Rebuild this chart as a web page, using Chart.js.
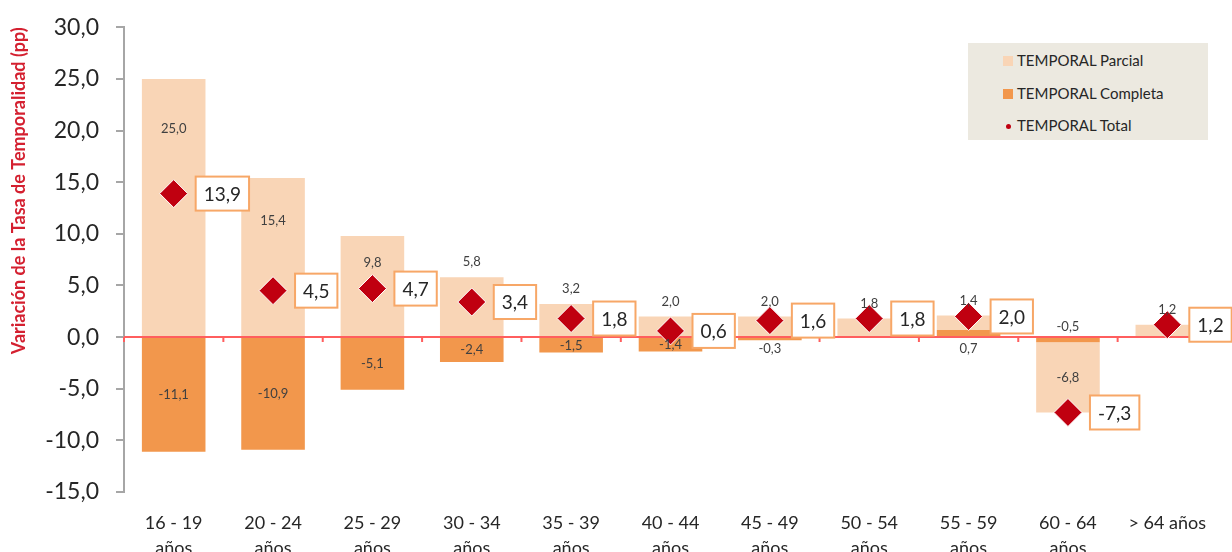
<!DOCTYPE html>
<html>
<head>
<meta charset="utf-8">
<script src="https://cdn.jsdelivr.net/npm/chart.js@4/dist/chart.umd.min.js"></script>
<style>
  html, body { margin: 0; padding: 0; background: #fff; }
  #marco { position: relative; width: 1232px; height: 552px; }
  #leyenda { position: absolute; left: 968px; top: 43px; width: 240px; height: 97px;
             background: #ECE9E0; font: 15px Lato, sans-serif; color: #262626; }
  #leyenda .item { position: absolute; left: 35px; height: 18px; line-height: 18px; white-space: nowrap; }
  #leyenda .marca { display: inline-block; width: 10px; height: 10px; margin-right: 4px; vertical-align: 0px; }
  #leyenda .punto { border-radius: 50%; width: 5px; height: 5px; margin: 0 6px 2px 3px; }
</style>
</head>
<body>
<div id="marco">
  <canvas id="grafico" width="1232" height="552"></canvas>
  <div id="leyenda"></div>
</div>
<script>
// categorías (grupos de edad)
var edades = [
  ['16 - 19', 'años'], ['20 - 24', 'años'], ['25 - 29', 'años'], ['30 - 34', 'años'],
  ['35 - 39', 'años'], ['40 - 44', 'años'], ['45 - 49', 'años'], ['50 - 54', 'años'],
  ['55 - 59', 'años'], ['60 - 64', 'años'], ['> 64 años']
];
// variación en puntos porcentuales
var parcial  = [25.0, 15.4, 9.8, 5.8, 3.2, 2.0, 2.0, 1.8, 1.4, -6.8, 1.2];
var completa = [-11.1, -10.9, -5.1, -2.4, -1.5, -1.4, -0.3, null, 0.7, -0.5, null];
var total    = [13.9, 4.5, 4.7, 3.4, 1.8, 0.6, 1.6, 1.8, 2.0, -7.3, 1.2];
// marcas del eje vertical
var marcasY = [-15, -10, -5, 0, 5, 10, 15, 20, 25, 30];

var colParcial = '#F9D5B6';
var colCompleta = '#F2974C';
var colTotal = '#C00010';
var fuente = 'Lato, sans-serif';
var colTexto = '#262626';

function coma(v) {
  return v.toFixed(1).replace('.', ',');
}

// línea del cero, etiquetas de las barras y recuadros del total
var etiquetas = {
  id: 'etiquetas',
  beforeDatasetDraw: function(chart, args) {
    if (args.meta.type !== 'line') return;
    var ctx = chart.ctx, area = chart.chartArea;
    var cero = chart.scales.y.getPixelForValue(0);
    var x = chart.scales.x;
    ctx.save();
    ctx.strokeStyle = '#FF5E5E';
    ctx.lineWidth = 2;
    ctx.beginPath();
    ctx.moveTo(area.left, cero);
    ctx.lineTo(area.right, cero);
    for (var i = 0; i <= edades.length; i++) {
      var xp = x.getPixelForValue(i - 0.5);
      ctx.moveTo(xp, cero);
      ctx.lineTo(xp, cero + 5);
    }
    ctx.stroke();
    ctx.restore();
  },
  afterDatasetsDraw: function(chart) {
    var ctx = chart.ctx;
    var cero = chart.scales.y.getPixelForValue(0);
    var mParcial = chart.getDatasetMeta(0);
    var mCompleta = chart.getDatasetMeta(1);
    var mTotal = chart.getDatasetMeta(2);
    ctx.save();
    ctx.font = '13px ' + fuente;
    ctx.fillStyle = '#404040';
    ctx.textAlign = 'center';
    ctx.textBaseline = 'middle';
    mParcial.data.forEach(function(bar, i) {
      var v = parcial[i];
      var arriba = Math.min(bar.y, bar.base), abajo = Math.max(bar.y, bar.base);
      var ly;
      if (v < 0) ly = (arriba + abajo) / 2;
      else if (v >= 8) ly = arriba + Math.min(50, (abajo - arriba) * 0.27);
      else ly = arriba - 15;
      ctx.fillText(coma(v), bar.x, ly);
    });
    mCompleta.data.forEach(function(bar, i) {
      var v = completa[i];
      if (v === null) return;
      var ly;
      if (Math.abs(v) >= 1) ly = (bar.y + bar.base) / 2;
      else if (parcial[i] < 0) ly = cero - 10;
      else ly = cero + 12;
      ctx.fillText(coma(v), bar.x, ly);
    });
    ctx.font = '19px ' + fuente;
    ctx.textAlign = 'left';
    mTotal.data.forEach(function(pt, i) {
      var txt = coma(total[i]);
      var w = ctx.measureText(txt).width + 16;
      var bx = pt.x + 22, by = pt.y - 17;
      ctx.fillStyle = '#fff';
      ctx.fillRect(bx, by, w, 34);
      ctx.strokeStyle = '#F7A767';
      ctx.lineWidth = 2;
      ctx.strokeRect(bx, by, w, 34);
      ctx.fillStyle = colTexto;
      ctx.fillText(txt, bx + 8, pt.y + 1);
    });
    ctx.restore();
  }
};

var ctx = document.getElementById('grafico').getContext('2d');
var grafico = new Chart(ctx, {
  type: 'bar',
  data: {
    labels: edades,
    datasets: [{
      label: 'TEMPORAL Parcial',
      data: parcial,
      backgroundColor: colParcial,
      order: 2
    }, {
      label: 'TEMPORAL Completa',
      data: completa,
      backgroundColor: colCompleta,
      order: 1
    }, {
      type: 'line',
      label: 'TEMPORAL Total',
      data: total,
      stack: 'total',
      showLine: false,
      pointStyle: 'rectRot',
      pointRadius: 14,
      pointHoverRadius: 14,
      pointBackgroundColor: colTotal,
      pointBorderColor: '#ffffff',
      pointBorderWidth: 1,
      order: 0
    }]
  },
  options: {
    responsive: false,
    animation: false,
    layout: { padding: { top: 20, right: 14, left: 0, bottom: 0 } },
    datasets: {
      bar: { barPercentage: 0.64, categoryPercentage: 1 }
    },
    plugins: {
      legend: { display: false },
      tooltip: { enabled: false }
    },
    scales: {
      x: {
        stacked: true,
        offset: true,
        grid: { display: false },
        border: { display: false },
        ticks: {
          padding: 11,
          color: colTexto,
          font: { family: fuente, size: 18, lineHeight: 1.38 },
          maxRotation: 0,
          autoSkip: false
        },
        afterFit: function(scale) { scale.height = 60; }
      },
      y: {
        stacked: true,
        min: -15,
        max: 30,
        afterBuildTicks: function(scale) {
          scale.ticks = marcasY.map(function(v) { return { value: v }; });
        },
        grid: { drawOnChartArea: false, drawTicks: true, tickLength: 8, color: '#A6A6A6', lineWidth: 2 },
        border: { display: true, color: '#A6A6A6', width: 2 },
        ticks: {
          padding: 17,
          color: colTexto,
          font: { family: fuente, size: 23, lineHeight: 0.9 },
          callback: function(v) { return coma(v); }
        },
        title: {
          display: true,
          align: 'end',
          text: 'Variación de la Tasa de Temporalidad (pp)',
          color: '#D42030',
          font: { family: fuente, size: 18, weight: 'bold' },
          padding: { top: 8, bottom: 0 }
        },
        afterFit: function(scale) { scale.width = 124; }
      }
    }
  },
  plugins: [etiquetas]
});

// leyenda en HTML a partir de las series
var leyenda = document.getElementById('leyenda');
var filas = [8, 41, 73];
grafico.data.datasets.forEach(function(ds, i) {
  var item = document.createElement('div');
  item.className = 'item';
  item.style.top = filas[i] + 'px';
  var marca = document.createElement('span');
  marca.className = ds.type === 'line' ? 'marca punto' : 'marca';
  marca.style.background = ds.type === 'line' ? ds.pointBackgroundColor : ds.backgroundColor;
  item.appendChild(marca);
  item.appendChild(document.createTextNode(ds.label));
  leyenda.appendChild(item);
});
</script>
</body>
</html>
